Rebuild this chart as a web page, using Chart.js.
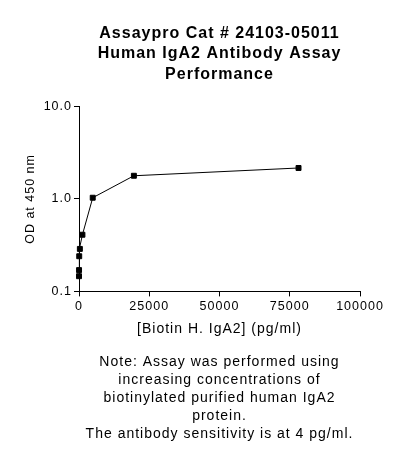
<!DOCTYPE html>
<html>
<head>
<meta charset="utf-8">
<script src="https://cdn.jsdelivr.net/npm/chart.js@4"></script>
<style>
  body { margin: 0; background: #fff; }
  #wrap { width: 395px; height: 474px; }
</style>
</head>
<body>
<div id="wrap"><canvas id="assayChart"></canvas></div>
<script>
// concentrazioni (pg/ml) e densita ottica
const concentrations = [4.8, 19, 76, 305, 1221, 4883, 19531, 78125];
const odValues = [0.146, 0.17, 0.24, 0.288, 0.41, 1.03, 1.78, 2.16];
const xTicks = [0, 25000, 50000, 75000, 100000];
const yTicks = [0.1, 1, 10];

const titleLines = ['Assaypro Cat # 24103-05011', 'Human IgA2 Antibody Assay', 'Performance'];
const noteLines = [
  'Note: Assay was performed using',
  'increasing concentrations of',
  'biotinylated purified human IgA2',
  'protein.',
  'The antibody sensitivity is at 4 pg/ml.'
];

const fontFamily = '"Liberation Sans", Arial, sans-serif';

// il testo dell'originale e' un po' spaziato
const spacingPlugin = {
  id: 'spacing',
  beforeLayout: chart => { chart.ctx.letterSpacing = '1px'; },
  beforeDraw: chart => { chart.ctx.letterSpacing = '1px'; }
};

const ctx = document.getElementById('assayChart').getContext('2d');

new Chart(ctx, {
  type: 'line',
  data: {
    datasets: [{
      data: concentrations.map((c, i) => ({ x: c, y: odValues[i] })),
      borderColor: '#000',
      backgroundColor: '#000',
      borderWidth: 1,
      pointStyle: 'rect',
      pointRadius: 3.5,
      pointHoverRadius: 3.5,
      tension: 0,
      clip: false
    }]
  },
  plugins: [spacingPlugin],
  options: {
    responsive: true,
    maintainAspectRatio: false,
    animation: false,
    layout: { padding: { left: 0, right: 35, top: 0, bottom: 0 } },
    plugins: {
      legend: { display: false },
      tooltip: { enabled: false },
      title: {
        display: true,
        fullSize: false,
        text: titleLines,
        color: '#000',
        font: { family: fontFamily, size: 16, weight: 'bold', lineHeight: 1.28 },
        padding: { top: 23, bottom: 22 }
      },
      subtitle: {
        display: true,
        fullSize: false,
        position: 'bottom',
        text: noteLines,
        color: '#000',
        font: { family: fontFamily, size: 14, lineHeight: 1.28 },
        padding: { top: 12, bottom: 31 }
      }
    },
    scales: {
      x: {
        type: 'linear',
        min: 0,
        max: 100000,
        afterBuildTicks: s => { s.ticks = xTicks.map(v => ({ value: v })); },
        afterFit: s => { s.height = 50; },
        grid: { display: true, drawOnChartArea: false, drawTicks: true, tickLength: 5, color: '#000' },
        border: { color: '#000', width: 1 },
        ticks: {
          color: '#000',
          font: { family: fontFamily, size: 12.5 },
          padding: 3,
          maxRotation: 0,
          callback: v => String(v)
        },
        title: {
          display: true,
          text: '[Biotin H. IgA2] (pg/ml)',
          color: '#000',
          font: { family: fontFamily, size: 14, lineHeight: 1.2 },
          padding: { top: 4, bottom: 4 }
        }
      },
      y: {
        type: 'logarithmic',
        min: 0.1,
        max: 10,
        afterBuildTicks: s => { s.ticks = yTicks.map(v => ({ value: v })); },
        afterFit: s => { s.width = 79; },
        grid: { display: true, drawOnChartArea: false, drawTicks: true, tickLength: 5, color: '#000' },
        border: { color: '#000', width: 1 },
        ticks: {
          color: '#000',
          font: { family: fontFamily, size: 12.5 },
          padding: 2,
          callback: v => Number(v).toFixed(1)
        },
        title: {
          display: true,
          text: 'OD at 450 nm',
          color: '#000',
          font: { family: fontFamily, size: 12.5, lineHeight: 1.2 },
          padding: { top: 23, bottom: 0 }
        }
      }
    }
  }
});
</script>
</body>
</html>
